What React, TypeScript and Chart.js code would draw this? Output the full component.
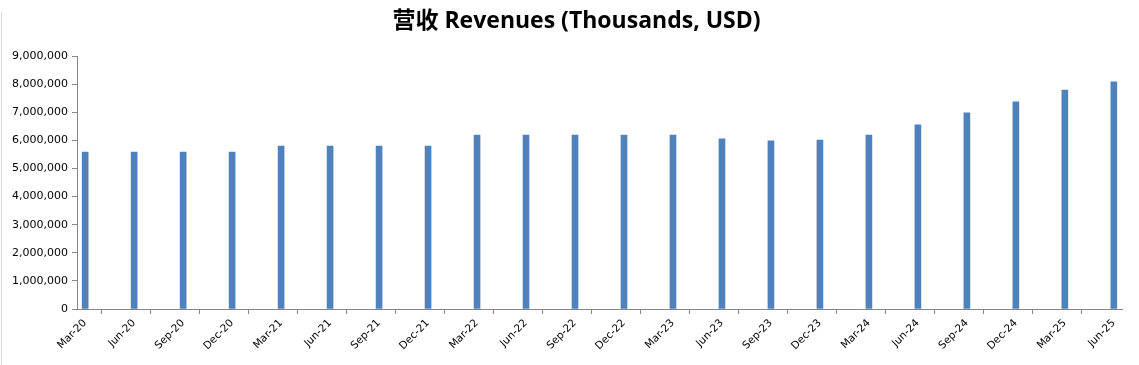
import React, { useEffect, useRef } from "react";
import { Chart, registerables } from "chart.js";

Chart.register(...registerables);

const quarters = [
  "Mar-20", "Jun-20", "Sep-20", "Dec-20",
  "Mar-21", "Jun-21", "Sep-21", "Dec-21",
  "Mar-22", "Jun-22", "Sep-22", "Dec-22",
  "Mar-23", "Jun-23", "Sep-23", "Dec-23",
  "Mar-24", "Jun-24", "Sep-24", "Dec-24",
  "Mar-25", "Jun-25",
];

const revenues = [
  5580000, 5580000, 5580000, 5580000,
  5800000, 5800000, 5800000, 5800000,
  6190000, 6190000, 6190000, 6190000,
  6190000, 6050000, 5980000, 6010000,
  6190000, 6550000, 6980000, 7370000,
  7790000, 8080000,
];

// months between consecutive quarter labels, and the axis span in months
const monthsPerQuarter = 3;
const axisMonths = 64;

const titleText = "营收 Revenues (Thousands, USD)";

const titlePlugin = {
  id: "centeredTitle",
  afterDraw(chart: any) {
    const ctx = chart.ctx;
    ctx.save();
    ctx.font = "bold 23px 'Open Sans', 'Noto Sans CJK SC', sans-serif";
    ctx.fillStyle = "#000000";
    ctx.textAlign = "center";
    ctx.textBaseline = "middle";
    ctx.fillText(titleText, chart.width / 2 + 7, 21);
    ctx.restore();
  },
};

export default function App() {
  const canvasRef = useRef<HTMLCanvasElement | null>(null);

  useEffect(() => {
    if (!canvasRef.current) return;
    const points = revenues.map((v, i) => ({ x: i * monthsPerQuarter + 0.5, y: v }));
    const chart = new Chart(canvasRef.current, {
      type: "bar",
      data: {
        datasets: [
          {
            data: points as any,
            backgroundColor: "#4F81BD",
            borderWidth: 0,
            barThickness: 6,
          },
        ],
      },
      plugins: [titlePlugin],
      options: {
        animation: false,
        responsive: false,
        maintainAspectRatio: false,
        layout: { padding: { left: 0, right: 17, top: 56, bottom: 0 } },
        plugins: {
          legend: { display: false },
          tooltip: { enabled: false },
          title: { display: false },
        },
        scales: {
          x: {
            type: "linear",
            min: 0,
            max: axisMonths,
            offset: false,
            afterBuildTicks: (scale: any) => {
              scale.ticks = quarters.map((_, i) => ({ value: i * monthsPerQuarter }));
            },
            afterFit: (scale: any) => {
              scale.height = 56;
            },
            grid: {
              drawOnChartArea: false,
              drawTicks: true,
              tickLength: 5,
              color: "#868686",
            },
            border: { display: true, color: "#868686", width: 1 },
            ticks: {
              autoSkip: false,
              minRotation: 45,
              maxRotation: 45,
              padding: 3,
              labelOffset: 8,
              color: "#000000",
              font: { family: "'DejaVu Sans', sans-serif", size: 10.5 },
              callback: (value: any) => {
                const idx = Math.round(Number(value) / monthsPerQuarter);
                return quarters[idx] ?? "";
              },
            },
          },
          y: {
            min: 0,
            max: 9000000,
            afterFit: (scale: any) => {
              scale.width = 77;
            },
            grid: {
              drawOnChartArea: false,
              drawTicks: true,
              tickLength: 5,
              color: "#868686",
            },
            border: { display: true, color: "#868686", width: 1 },
            ticks: {
              stepSize: 1000000,
              padding: 4,
              color: "#000000",
              font: { family: "'DejaVu Sans', sans-serif", size: 11 },
              callback: (value: any) => Number(value).toLocaleString("en-US"),
            },
          },
        },
      },
    });
    return () => chart.destroy();
  }, []);

  return (
    <div style={{ position: "fixed", left: 0, top: 0, width: 1139, height: 365, background: "#ffffff" }}>
      <div style={{ position: "absolute", left: 1, top: 12, width: 1, height: 353, background: "#d9d9d9" }} />
      <canvas ref={canvasRef} width={1139} height={365} style={{ display: "block", width: 1139, height: 365 }} />
    </div>
  );
}
